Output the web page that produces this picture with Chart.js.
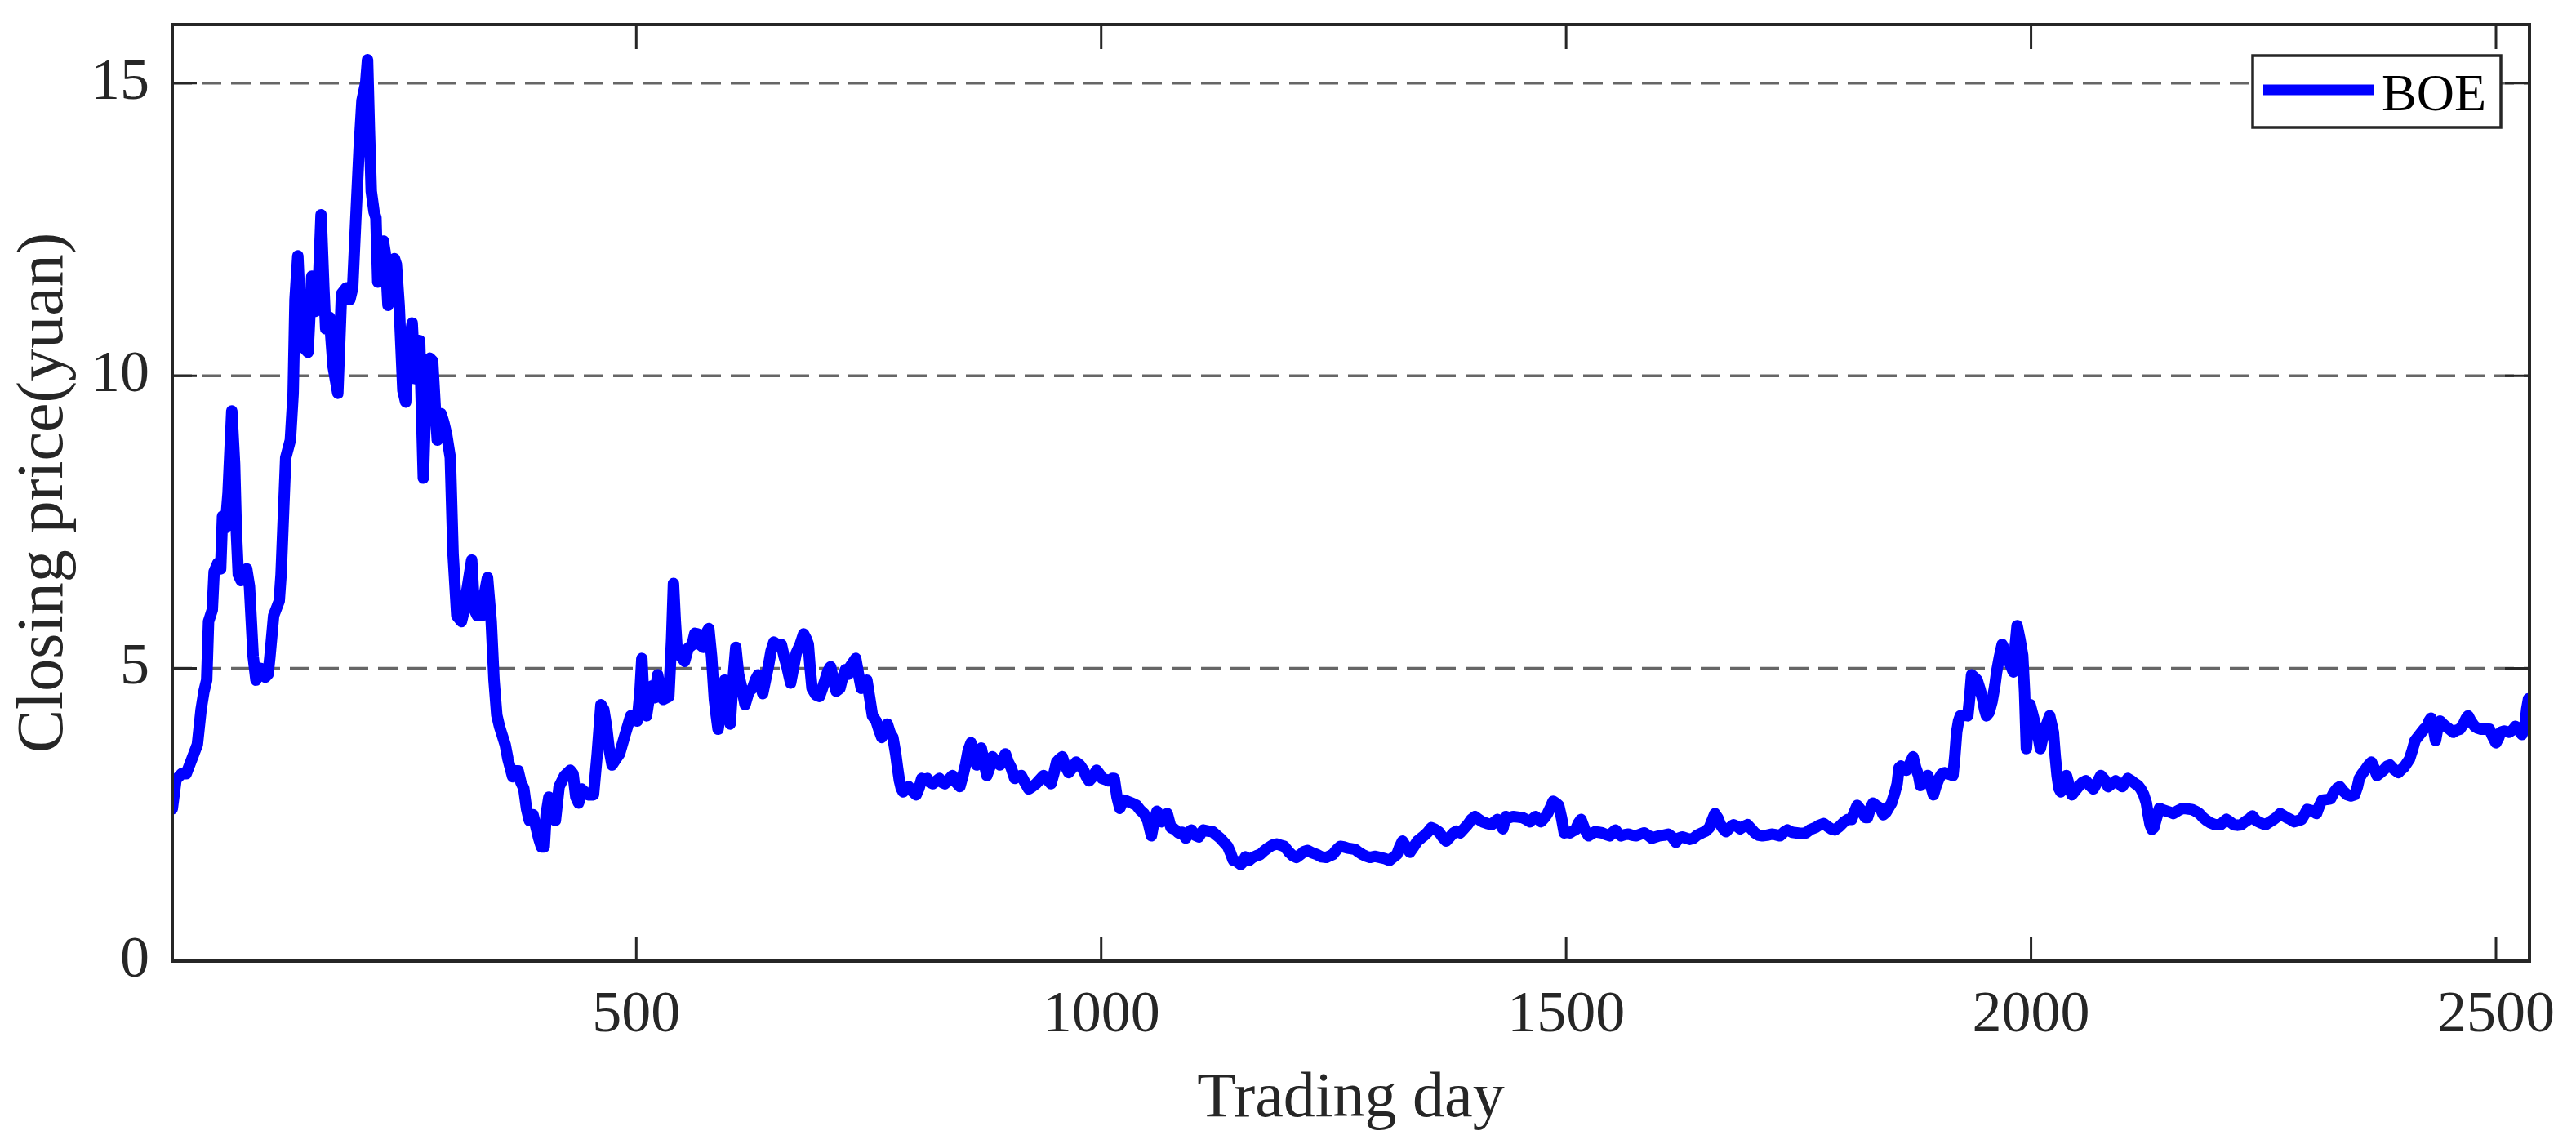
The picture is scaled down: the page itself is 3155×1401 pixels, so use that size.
<!DOCTYPE html>
<html>
<head>
<meta charset="utf-8">
<script src="https://cdn.jsdelivr.net/npm/chart.js@4.4.1/dist/chart.umd.min.js"></script>
<style>
  html, body { margin: 0; padding: 0; background: #fff; }
  #wrap { width: 3155px; height: 1401px; }
</style>
</head>
<body>
<div id="wrap"><canvas id="priceChart" width="3155" height="1401"></canvas></div>
<script>
// trading day index
const tradingDays = [
  1, 5, 11, 16, 22, 28, 32, 35, 38, 40,
  44, 46, 50, 53, 55, 58, 61, 65, 68, 70,
  72, 75, 81, 84, 88, 91, 96, 101, 104, 106,
  110, 116, 118, 120, 123, 128, 131, 133, 136, 139,
  141, 147, 151, 155, 158, 161, 164, 166, 170, 174,
  179, 183, 188, 192, 195, 198, 202, 205, 209, 211,
  213, 215, 218, 220, 222, 224, 228, 230, 233, 237,
  240, 242, 245, 249, 252, 256, 259, 262, 265, 267,
  271, 273, 275, 278, 281, 284, 286, 290, 293, 296,
  300, 303, 307, 312, 315, 318, 323, 326, 329, 334,
  337, 340, 344, 347, 350, 353, 356, 359, 362, 367,
  370, 373, 376, 379, 382, 385, 389, 392, 395, 398,
  401, 403, 406, 409, 413,
  417, 423, 429, 432, 435, 438, 441, 448, 454, 458,
  462, 465, 468, 471, 474, 478, 482, 488, 494, 501,
  504, 506, 508, 511, 514, 517, 520, 523, 526, 529,
  535, 538, 540, 542, 544, 548, 552, 556, 560, 563,
  566, 569, 572, 575, 578, 581, 584, 586, 588, 591,
  595, 598, 601, 604, 607, 610, 613, 617, 621, 625,
  628, 631, 636, 642, 645, 648, 652, 656, 659, 662,
  666, 669, 672, 676, 680, 683, 685, 687, 689, 693,
  697, 700, 703, 706, 709, 712, 715, 719, 722, 725,
  728, 730, 733, 736, 739, 742, 745, 748, 751, 754,
  758, 761, 764, 767, 770, 773, 776, 779, 781, 783,
  785, 787, 790, 793, 797, 801, 804, 807, 810, 813,
  816, 819, 823, 826, 829, 832, 836, 840, 844, 848,
  851, 854, 857, 860, 863, 866, 868, 871, 874, 877,
  880, 883, 887, 891, 894, 897, 900, 903, 907, 910,
  914, 918, 922, 926, 930, 934, 938, 942, 946, 949,
  952, 955, 958, 961, 965, 969, 973, 977, 981, 984,
  987, 991, 995, 998, 1001, 1005, 1008, 1012, 1014, 1017,
  1020,
  1024, 1028, 1033, 1038, 1042, 1046, 1050, 1054, 1057, 1060,
  1063, 1065, 1068, 1071, 1075, 1079, 1083, 1087, 1091, 1094,
  1097, 1101, 1105, 1108, 1110, 1115, 1120, 1124, 1128, 1132,
  1136, 1139, 1142, 1146, 1150, 1153, 1155, 1159, 1163, 1167,
  1171, 1175, 1179, 1184, 1189, 1193, 1197, 1202, 1206, 1210,
  1215, 1218, 1222, 1227, 1232, 1237, 1242, 1246, 1249, 1253,
  1257, 1261, 1265, 1269, 1273, 1277, 1281, 1285, 1289, 1294,
  1300, 1305, 1310, 1314, 1318, 1321, 1324, 1328, 1332, 1336,
  1340, 1344, 1347, 1351, 1355, 1359, 1363, 1367, 1371, 1375,
  1379, 1382, 1386, 1390, 1394, 1398, 1402, 1406, 1410, 1415,
  1420, 1423, 1426, 1429, 1432, 1435, 1439, 1443, 1448, 1453,
  1457, 1461, 1464, 1467, 1470, 1473, 1477, 1480, 1483, 1486,
  1489, 1492, 1495, 1498, 1501, 1504, 1507, 1510, 1513, 1516,
  1520, 1524, 1528, 1531, 1535, 1539, 1543, 1547, 1550, 1553,
  1556, 1559, 1563, 1567, 1571, 1575, 1580, 1584, 1588, 1592,
  1596, 1600, 1605, 1610, 1614, 1618, 1621, 1625,
  1629, 1633, 1637, 1641, 1646, 1650, 1654, 1657, 1660, 1663,
  1666, 1669, 1672, 1676, 1680, 1684, 1687, 1691, 1695, 1699,
  1703, 1707, 1711, 1716, 1721, 1725, 1730, 1734, 1738, 1743,
  1748, 1753, 1758, 1763, 1768, 1772, 1777, 1781, 1785, 1789,
  1794, 1799, 1803, 1807, 1810, 1813, 1816, 1819, 1822, 1824,
  1827, 1830, 1834, 1838, 1841, 1844, 1847, 1850, 1853, 1856,
  1858, 1860, 1863, 1866, 1869, 1873, 1876, 1879, 1881, 1883,
  1886, 1889, 1892, 1895, 1898, 1901, 1904, 1907, 1911, 1916,
  1918, 1920, 1922, 1924, 1928, 1932, 1934, 1936, 1939, 1942,
  1945, 1948, 1950, 1952, 1955, 1958, 1961, 1963, 1966, 1969,
  1972, 1975, 1978, 1981, 1983, 1985, 1988, 1991, 1993, 1995,
  1997, 1999, 2002, 2005, 2008, 2010, 2013, 2016, 2018, 2020,
  2022, 2024, 2026, 2028, 2030, 2032, 2035, 2038, 2041, 2044,
  2047, 2051, 2055, 2059, 2063, 2067, 2071, 2075, 2079, 2083,
  2087, 2091, 2095, 2098, 2101, 2104, 2108, 2112, 2115, 2118,
  2121, 2124, 2126, 2128, 2130, 2132, 2135, 2138, 2142, 2146,
  2150, 2153, 2158, 2163, 2168, 2173, 2177, 2181, 2185, 2189,
  2193, 2198, 2201, 2204, 2207, 2210, 2214, 2218, 2222, 2226,
  2230, 2234, 2238,
  2242, 2247, 2252, 2256, 2261, 2265, 2268, 2272, 2275, 2279,
  2283, 2287, 2291, 2294, 2297, 2302, 2307, 2310, 2313, 2318,
  2322, 2326, 2329, 2332, 2336, 2340, 2344, 2348, 2351, 2353,
  2356, 2359, 2363, 2366, 2369, 2372, 2376, 2379, 2383, 2386,
  2390, 2395, 2398, 2401, 2404, 2407, 2410, 2413, 2417, 2420,
  2423, 2426, 2428, 2430, 2433, 2435, 2437, 2440, 2443, 2446,
  2450, 2454, 2457, 2461, 2465, 2468, 2470, 2473, 2477, 2480,
  2484, 2488, 2493, 2496, 2500, 2503, 2505, 2509, 2514, 2518,
  2521, 2525, 2528, 2531, 2533, 2535
];

// closing price in yuan, same order as tradingDays
const closingPrices = [
  2.6, 3.1, 3.2, 3.2, 3.45, 3.7, 4.3, 4.6, 4.8, 5.8,
  6.0, 6.65, 6.8, 6.7, 7.6, 7.4, 8.0, 9.4, 8.5, 7.3,
  6.6, 6.5, 6.7, 6.4, 5.2, 4.8, 5.0, 4.85, 4.9, 5.2,
  5.9, 6.15, 6.6, 7.4, 8.6, 8.9, 9.7, 11.3, 12.05, 11.0,
  10.5, 10.4, 11.7, 11.1, 11.5, 12.75, 11.5, 10.8, 11.0, 10.15,
  9.7, 11.4, 11.5, 11.3, 11.5, 12.55, 13.9, 14.7, 15.0, 15.4,
  14.2, 13.15, 12.8, 12.7, 11.6, 11.8, 12.3, 12.1, 11.2, 11.8,
  12.0, 11.9, 11.2, 9.75, 9.55, 10.6, 10.9, 9.95, 10.4, 10.6,
  8.25, 9.3, 10.15, 10.3, 10.25, 9.4, 8.9, 9.35, 9.2, 9.0,
  8.6, 6.95, 5.9, 5.8, 6.0, 6.35, 6.85, 6.0, 5.9, 5.9,
  6.3, 6.55, 5.8, 4.8, 4.2, 4.0, 3.85, 3.7, 3.45, 3.15,
  3.25, 3.25, 3.05, 2.95, 2.6, 2.4, 2.5, 2.3, 2.1, 1.95,
  1.95, 2.5, 2.8, 2.45, 2.4,
  2.98, 3.17, 3.26, 3.2, 2.8, 2.7, 2.94, 2.84, 2.84, 3.54,
  4.38, 4.3, 4.01, 3.6, 3.35, 3.45, 3.54, 3.87, 4.19, 4.1,
  4.6, 5.17, 4.5, 4.19, 4.5, 4.7, 4.5, 4.89, 4.6, 4.47,
  4.52, 5.5, 6.45, 5.8, 5.31, 5.2, 5.12, 5.35, 5.4, 5.6,
  5.59, 5.4, 5.36, 5.6, 5.68, 5.2, 4.47, 4.2, 3.96, 4.3,
  4.8, 4.6, 4.05, 4.8, 5.36, 4.9, 4.7, 4.38, 4.6, 4.66,
  4.8, 4.89, 4.57, 5.03, 5.3, 5.45, 5.4, 5.41, 5.2, 5.03,
  4.75, 5.0, 5.26, 5.4, 5.59, 5.5, 5.41, 5.0, 4.66, 4.55,
  4.52, 4.65, 4.8, 4.95, 5.03, 4.8, 4.61, 4.66, 4.85, 4.98,
  4.9, 5.03, 5.1, 5.17, 4.9, 4.66, 4.75, 4.8, 4.5, 4.19,
  4.1, 3.95, 3.82, 3.95, 4.05, 3.9, 3.82, 3.54, 3.3, 3.08,
  2.95, 2.89, 2.95, 2.98, 2.9, 2.84, 2.95, 3.12, 3.1, 3.12,
  3.05, 3.03, 3.08, 3.12, 3.05, 3.03, 3.1, 3.17, 3.05, 2.98,
  3.15, 3.35, 3.6, 3.73, 3.55, 3.35, 3.5, 3.64, 3.4, 3.17,
  3.3, 3.49, 3.4, 3.35, 3.45, 3.54, 3.4, 3.31, 3.12, 3.15,
  3.17, 3.05, 2.94, 2.98, 3.03, 3.1, 3.17, 3.1, 3.03, 3.2,
  3.4, 3.45, 3.49, 3.35, 3.22, 3.3, 3.4, 3.35, 3.26, 3.15,
  3.08, 3.15, 3.26, 3.2, 3.12, 3.1, 3.08, 3.12, 3.12, 2.8,
  2.61,
  2.75, 2.73, 2.7, 2.66, 2.58, 2.52, 2.4, 2.14, 2.4, 2.56,
  2.45, 2.38, 2.45, 2.52, 2.28, 2.25, 2.19, 2.2, 2.1, 2.2,
  2.24, 2.15, 2.12, 2.2, 2.24, 2.22, 2.21, 2.15, 2.1, 2.03,
  1.96, 1.85, 1.72, 1.7, 1.65, 1.7, 1.78, 1.72, 1.77, 1.8,
  1.82, 1.88, 1.93, 1.98, 2.0, 1.98, 1.96, 1.86, 1.8, 1.77,
  1.83, 1.87, 1.89, 1.85, 1.82, 1.78, 1.77, 1.8, 1.82, 1.9,
  1.96, 1.95, 1.93, 1.92, 1.91, 1.86, 1.82, 1.79, 1.77, 1.79,
  1.77, 1.75, 1.72, 1.77, 1.82, 1.95, 2.05, 1.95, 1.86, 1.95,
  2.05, 2.1, 2.14, 2.2, 2.28, 2.25, 2.21, 2.12, 2.05, 2.12,
  2.19, 2.22, 2.19, 2.26, 2.33, 2.42, 2.47, 2.42, 2.38, 2.35,
  2.33, 2.38, 2.42, 2.35, 2.26, 2.47, 2.45, 2.47, 2.46, 2.45,
  2.42, 2.38, 2.43, 2.47, 2.42, 2.38, 2.45, 2.52, 2.62, 2.73,
  2.7, 2.66, 2.45, 2.19, 2.2, 2.19, 2.22, 2.24, 2.35, 2.42,
  2.25, 2.14, 2.18, 2.21, 2.2, 2.19, 2.16, 2.14, 2.2, 2.24,
  2.18, 2.14, 2.16, 2.17, 2.15, 2.14, 2.17, 2.19, 2.15, 2.1,
  2.12, 2.14, 2.15, 2.17, 2.12, 2.03, 2.1, 2.12,
  2.1, 2.08, 2.1, 2.15, 2.19, 2.22, 2.28, 2.4, 2.52, 2.45,
  2.33, 2.26, 2.21, 2.28, 2.33, 2.3, 2.26, 2.3, 2.33, 2.26,
  2.19, 2.15, 2.14, 2.15, 2.17, 2.16, 2.14, 2.2, 2.24, 2.2,
  2.19, 2.18, 2.19, 2.25, 2.28, 2.32, 2.35, 2.3, 2.26, 2.24,
  2.3, 2.38, 2.42, 2.42, 2.55, 2.66, 2.6, 2.52, 2.45, 2.45,
  2.6, 2.7, 2.65, 2.61, 2.5, 2.54, 2.62, 2.7, 2.85, 3.03,
  3.3, 3.33, 3.3, 3.26, 3.35, 3.49, 3.3, 3.17, 3.0, 3.03,
  3.1, 3.17, 3.0, 2.84, 3.0, 3.12, 3.2, 3.22, 3.2, 3.17,
  3.5, 3.91, 4.1, 4.19, 4.2, 4.19, 4.5, 4.89, 4.85, 4.8,
  4.65, 4.47, 4.3, 4.19, 4.25, 4.43, 4.7, 4.94, 5.2, 5.41,
  5.3, 5.17, 5.05, 4.94, 5.4, 5.73, 5.5, 5.22, 4.6, 3.63,
  4.1, 4.38, 4.2, 4.01, 3.8, 3.63, 3.85, 4.01, 4.1, 4.19,
  4.05, 3.91, 3.5, 3.17, 2.95, 2.89, 3.05, 3.17, 3.0, 2.84,
  2.9, 2.98, 3.05, 3.08, 3.0, 2.94, 3.05, 3.17, 3.1, 2.98,
  3.03, 3.08, 3.03, 2.98, 3.05, 3.12, 3.08, 3.03, 3.0, 2.94,
  2.85, 2.7, 2.5, 2.33, 2.25, 2.28, 2.45, 2.61, 2.58, 2.56,
  2.54, 2.52, 2.57, 2.61, 2.6, 2.59, 2.56, 2.52, 2.45, 2.4,
  2.36, 2.33, 2.33, 2.33, 2.38, 2.42, 2.38, 2.33, 2.32, 2.33,
  2.38, 2.42, 2.48,
  2.4, 2.36, 2.33, 2.37, 2.42, 2.47, 2.52, 2.48, 2.45, 2.42,
  2.38, 2.4, 2.42, 2.5, 2.59, 2.57, 2.52, 2.65, 2.75, 2.76,
  2.77, 2.89, 2.95, 2.98, 2.9, 2.84, 2.82, 2.84, 2.98, 3.12,
  3.2, 3.26, 3.35, 3.4, 3.3, 3.17, 3.22, 3.26, 3.33, 3.35,
  3.28, 3.22, 3.27, 3.31, 3.38, 3.45, 3.6, 3.77, 3.85, 3.91,
  3.97, 4.01, 4.1, 4.15, 3.95, 3.77, 3.95, 4.1, 4.05, 4.01,
  3.96, 3.91, 3.94, 3.96, 4.05, 4.15, 4.19, 4.1, 4.01, 3.98,
  3.96, 3.96, 3.96, 3.85, 3.73, 3.82, 3.91, 3.93, 3.91, 3.95,
  4.01, 3.93, 3.87, 4.01, 4.3, 4.48
];

const xTicks = [500, 1000, 1500, 2000, 2500];
const yTicks = [0, 5, 10, 15];
const seriesName = "BOE";

const axisColor = "#262626";
const serif = '"Liberation Serif", "Times New Roman", serif';

// dashed horizontal grid, drawn under the line
const dashedGrid = {
    id: "dashedGrid",
    beforeDatasetsDraw(chart) {
        const { ctx, chartArea: a, scales } = chart;
        ctx.save();
        ctx.strokeStyle = "#666666";
        ctx.lineWidth = 3.5;
        ctx.setLineDash([24, 12]);
        scales.y.ticks.forEach((t) => {
            if (t.value === 0) return;
            const py = scales.y.getPixelForValue(t.value);
            ctx.beginPath();
            ctx.moveTo(a.left, py);
            ctx.lineTo(a.right, py);
            ctx.stroke();
        });
        ctx.restore();
    },
};

// full box with inward ticks, like the matlab figure
const boxAxes = {
    id: "boxAxes",
    afterDatasetsDraw(chart) {
        const { ctx, chartArea: a, scales } = chart;
        const len = 30;
        ctx.save();
        ctx.strokeStyle = axisColor;
        ctx.lineWidth = 3;
        ctx.beginPath();
        scales.x.ticks.forEach((t) => {
            const px = scales.x.getPixelForValue(t.value);
            ctx.moveTo(px, a.bottom);
            ctx.lineTo(px, a.bottom - len);
            ctx.moveTo(px, a.top);
            ctx.lineTo(px, a.top + len);
        });
        scales.y.ticks.forEach((t) => {
            const py = scales.y.getPixelForValue(t.value);
            ctx.moveTo(a.left, py);
            ctx.lineTo(a.left + len, py);
            ctx.moveTo(a.right, py);
            ctx.lineTo(a.right - len, py);
        });
        ctx.stroke();
        ctx.lineWidth = 4;
        ctx.strokeRect(a.left, a.top, a.right - a.left, a.bottom - a.top);
        ctx.restore();
    },
};

// boxed legend in the top right corner
const boxLegend = {
    id: "boxLegend",
    afterDatasetsDraw(chart) {
        const { ctx, chartArea: a } = chart;
        const ds = chart.data.datasets[0];
        const x0 = a.right - 339, x1 = a.right - 35;
        const y0 = a.top + 38, y1 = a.top + 126;
        const yc = (y0 + y1) / 2 - 2;
        ctx.save();
        ctx.fillStyle = "#ffffff";
        ctx.fillRect(x0, y0, x1 - x0, y1 - y0);
        ctx.strokeStyle = axisColor;
        ctx.lineWidth = 3.5;
        ctx.strokeRect(x0, y0, x1 - x0, y1 - y0);
        ctx.strokeStyle = ds.borderColor;
        ctx.lineWidth = 13;
        ctx.beginPath();
        ctx.moveTo(x0 + 13, yc);
        ctx.lineTo(x0 + 149, yc);
        ctx.stroke();
        ctx.fillStyle = "#000000";
        ctx.font = "64px " + serif;
        ctx.textBaseline = "alphabetic";
        ctx.fillText(ds.label, x0 + 158, y0 + 67);
        ctx.restore();
    },
};

const points = tradingDays.map((d, i) => ({ x: d, y: closingPrices[i] }));

const ctx = document.getElementById("priceChart").getContext("2d");

const priceChart = new Chart(ctx, {
    type: "line",
    data: {
        datasets: [
            {
                label: seriesName,
                data: points,
                borderColor: "#0000ff",
                borderWidth: 14,
                borderJoinStyle: "round",
                borderCapStyle: "round",
                pointRadius: 0,
                tension: 0,
                fill: false,
            },
        ],
    },
    options: {
        responsive: false,
        animation: false,
        devicePixelRatio: 1,
        layout: { padding: { left: 7, right: 57, top: 30, bottom: 8 } },
        plugins: {
            legend: { display: false },
            tooltip: { enabled: false },
        },
        scales: {
            x: {
                type: "linear",
                min: 1,
                max: 2536,
                afterBuildTicks: (s) => { s.ticks = xTicks.map((v) => ({ value: v })); },
                grid: { display: false, drawTicks: false },
                border: { display: false },
                ticks: {
                    color: axisColor,
                    font: { family: serif, size: 72 },
                    padding: 24,
                    maxRotation: 0,
                    autoSkip: false,
                    callback: (v) => String(v),
                },
                title: {
                    display: true,
                    text: "Trading day",
                    color: axisColor,
                    font: { family: serif, size: 78 },
                    padding: { top: -12, bottom: 0 },
                },
            },
            y: {
                min: 0,
                max: 16,
                afterBuildTicks: (s) => { s.ticks = yTicks.map((v) => ({ value: v })); },
                grid: { display: false, drawTicks: false },
                border: { display: false },
                ticks: {
                    color: axisColor,
                    // tiny line height keeps chart.js from padding the plot top
                    font: { family: serif, size: 72, lineHeight: 0.04 },
                    padding: 28,
                    callback: (v) => String(v),
                },
                title: {
                    display: true,
                    text: "Closing price(yuan)",
                    color: axisColor,
                    font: { family: serif, size: 80 },
                    padding: { top: 0, bottom: -20 },
                },
            },
        },
    },
    plugins: [dashedGrid, boxAxes, boxLegend],
});
</script>
</body>
</html>
